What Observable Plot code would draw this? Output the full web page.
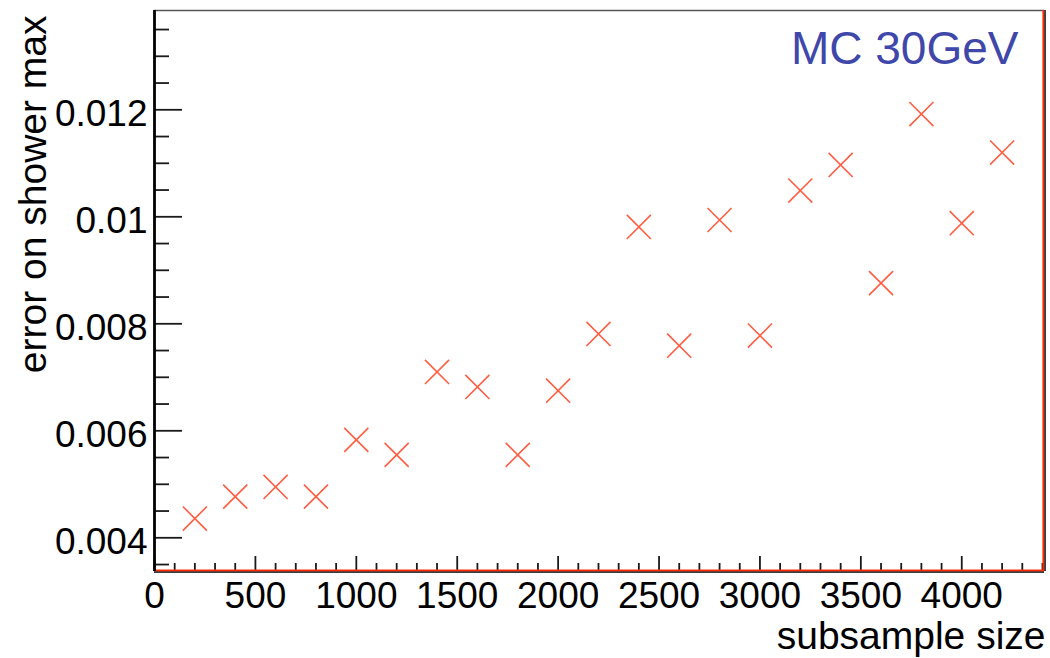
<!DOCTYPE html>
<html>
<head>
<meta charset="utf-8">
<script src="https://cdn.jsdelivr.net/npm/d3@7"></script>
<script src="https://cdn.jsdelivr.net/npm/@observablehq/plot@0.6"></script>
<style>
  html, body { margin: 0; padding: 0; background: #fff; }
  #chart svg { display: block; }
</style>
</head>
<body>
<div id="chart"></div>
<script>
// ---- data ----
const subsampleSize = [200, 400, 600, 800, 1000, 1200, 1400, 1600, 1800, 2000, 2200,
                       2400, 2600, 2800, 3000, 3200, 3400, 3600, 3800, 4000, 4200];
const errorOnShowerMax = [0.00436, 0.00477, 0.00495, 0.00477, 0.00583, 0.00555, 0.00710,
                          0.00682, 0.00555, 0.00675, 0.00781, 0.00981, 0.00759, 0.00994,
                          0.00778, 0.01049, 0.01097, 0.00876, 0.01192, 0.00988, 0.01120];
const xTickLabels = [0, 500, 1000, 1500, 2000, 2500, 3000, 3500, 4000];
const yTickLabels = [0.004, 0.006, 0.008, 0.01, 0.012];
const xTitle = "subsample size";
const yTitle = "error on shower max";
const annotation = "MC 30GeV";

const xDomain = [0, 4410];
const yDomain = [0.00337, 0.013856];
const xMinorTicks = d3.range(0, 4401, 100).filter(v => v % 500 !== 0);
const yMinorTicks = d3.range(35, 136, 5).map(v => v / 10000).filter(v => !yTickLabels.some(t => Math.abs(t - v) < 1e-9));

const points = subsampleSize.map((x, i) => ({x, y: errorOnShowerMax[i]}));

const W = 1050, H = 658;
const mL = 154, mR = 6, mT = 10, mB = 87;
const plotW = W - mL - mR, plotH = H - mT - mB;
const font = "'Liberation Sans', Arial, Helvetica, sans-serif";
const tickColor = "#1a1a1a";

const chart = Plot.plot({
  width: W,
  height: H,
  marginLeft: mL,
  marginRight: mR,
  marginTop: mT,
  marginBottom: mB,
  style: {fontFamily: font, fontSize: "37px", color: "#000", background: "#fff"},
  x: {domain: xDomain, axis: null},
  y: {domain: yDomain, axis: null},
  marks: [
    // inward ticks
    Plot.tickX(xMinorTicks, {x: d => d, insetTop: plotH - 8, stroke: tickColor, strokeWidth: 1.8}),
    Plot.tickX(xTickLabels, {x: d => d, insetTop: plotH - 15, stroke: tickColor, strokeWidth: 1.8}),
    Plot.tickY(yMinorTicks, {y: d => d, insetRight: plotW - 15, stroke: tickColor, strokeWidth: 1.8}),
    Plot.tickY(yTickLabels, {y: d => d, insetRight: plotW - 28, stroke: tickColor, strokeWidth: 1.8}),
    // tick labels
    Plot.axisX(xTickLabels, {label: null, tickSize: 0, tickPadding: 10, fontSize: 37, tickFormat: d => String(d), fill: "#000"}),
    Plot.axisY(yTickLabels, {label: null, tickSize: 0, tickPadding: 7, dy: 4, fontSize: 37, tickFormat: d => String(d), fill: "#000"}),
    // frame
    Plot.ruleY([yDomain[1]], {stroke: "#555", strokeWidth: 1.5}),
    Plot.ruleX([xDomain[1]], {stroke: "#000", strokeWidth: 1.5, dx: 0.5}),
    Plot.ruleX([xDomain[1]], {stroke: "#ff2a00", strokeWidth: 1.8, dx: -1.2}),
    Plot.ruleY([yDomain[0]], {stroke: "#000", strokeWidth: 1.5, dy: 0.5}),
    Plot.ruleY([yDomain[0]], {stroke: "#ff2a00", strokeWidth: 1.8, dy: -1.2}),
    Plot.ruleX([xDomain[0]], {stroke: "#000", strokeWidth: 2.8}),
    // data
    Plot.dot(points, {x: "x", y: "y", symbol: "times", r: 11, stroke: "#ff5e42", strokeWidth: 1.6}),
    // titles
    Plot.text([xTitle], {frameAnchor: "bottom-right", textAnchor: "end", lineAnchor: "bottom", dx: 1, dy: 77, fontSize: 39, fill: "#000"}),
    Plot.text([yTitle], {frameAnchor: "top-left", textAnchor: "end", lineAnchor: "bottom", rotate: -90, dx: -109, dy: 5, fontSize: 39, fill: "#000"}),
    Plot.text([annotation], {frameAnchor: "top-right", textAnchor: "end", lineAnchor: "bottom", dx: -26, dy: 53, fontSize: 46, fill: "#3f48aa"})
  ]
});
document.getElementById("chart").appendChild(chart);
</script>
</body>
</html>
